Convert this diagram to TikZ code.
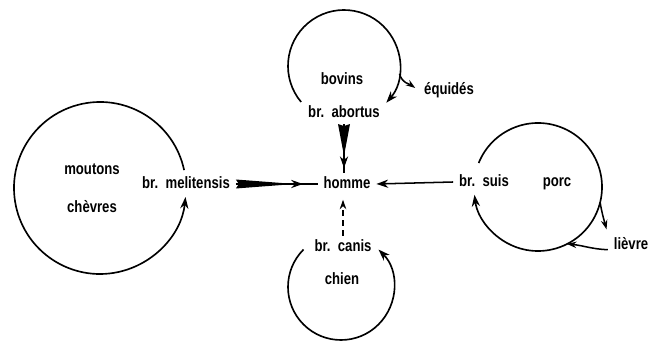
\documentclass[tikz,border=0pt]{standalone}
\usepackage{fontspec}
\setmainfont{Liberation Sans}[FakeStretch=0.8]
\usetikzlibrary{arrows.meta,calc,decorations.markings}
\newcommand\brsp{br.\hspace{0.45em}}
\begin{document}
\begin{tikzpicture}[x=0.03cm,y=0.03cm,
  lbl/.style={font=\fontsize{14}{16}\selectfont\bfseries, inner sep=5pt,
              text height=8.5pt, text depth=0pt},
  ring/.style={line width=1.4pt},
  link/.style={line width=1.3pt},
  head/.style={-{Stealth[length=10pt,width=7pt]}},
  smallhead/.style={-{Stealth[length=8pt,width=5.5pt]}},
  midhead/.style={postaction={decorate},
    decoration={markings, mark=at position #1 with {\arrow{Stealth[length=10pt,width=7pt]}}}},
]
\useasboundingbox (0,0) rectangle (650,343);

% labels
\node[lbl] (moutons) at (92,173) {moutons};
\node[lbl] (chevres) at (92,135) {chèvres};
\node[lbl] (meli)    at (186,159) {\brsp melitensis};
\node[lbl] (homme)   at (347,159) {homme};
\node[lbl] (suis)    at (484,161) {\brsp suis};
\node[lbl] (porc)    at (557,161) {porc};
\node[lbl] (bovins)  at (342,263) {bovins};
\node[lbl] (abortus) at (344,230) {\brsp abortus};
\node[lbl] (equides) at (449,253) {équidés};
\node[lbl] (canis)   at (343,96)  {\brsp canis};
\node[lbl] (chien)   at (342,63)  {chien};
\node[lbl] (lievre)  at (631,98)  {lièvre};

% host cycles
\coordinate (lc) at (100,155);
\coordinate (tc) at (344,277);
\coordinate (rc) at (538,156);
\coordinate (bc) at (341,56);

\draw[ring,head] ($(lc)+(12:86)$) arc[start angle=12,end angle=354,radius=86];
\draw[ring,head] ($(tc)+(220:56)$) arc[start angle=220,end angle=-41,radius=56];
\draw[ring,head] ($(rc)+(158:64)$) arc[start angle=158,end angle=-173,radius=64];
\draw[ring,head] ($(bc)+(135:53)$) arc[start angle=135,end angle=405,radius=53];

% side hosts
\coordinate (eqfrom) at ($(tc)+(-8:56)$);
\draw[link,smallhead,shorten >=3pt] (eqfrom) to[out=-75,in=145] (equides.west);
\coordinate (lvfrom) at ($(rc)+(-14:64)$);
\draw[link,smallhead,shorten >=4pt] (lvfrom) to[out=-80,in=105] (lievre.north west);
\coordinate (lvto) at ($(rc)+(-63:64)$);
\draw[link,smallhead] ([yshift=-4pt]lievre.west) to[out=178,in=-5] (lvto);

% transmission to man
\draw[link,midhead=0.82] (meli.east) -- (homme.west);
\fill ($(meli.east)+(0,4.5)$) -- ($(meli.east)!0.72!(homme.west)$)
  -- ($(meli.east)+(0,-4.5)$) -- ($(meli.east)+(3,0)$) -- cycle;

\draw[link,midhead=0.9] (abortus.south) -- (abortus.south |- homme.north);
\fill ($(abortus.south)+(-6,0)$) -- ($(abortus.south)!0.65!(abortus.south |- homme.north)$)
  -- ($(abortus.south)+(6,0)$) -- ($(abortus.south)+(0,-2)$) -- cycle;

\draw[link,head] (suis.west) -- (homme.east);
\draw[link,dashed,dash pattern=on 5pt off 3.5pt,smallhead,shorten >=4pt]
  (canis.north) -- (canis.north |- homme.south);
\end{tikzpicture}
\end{document}
